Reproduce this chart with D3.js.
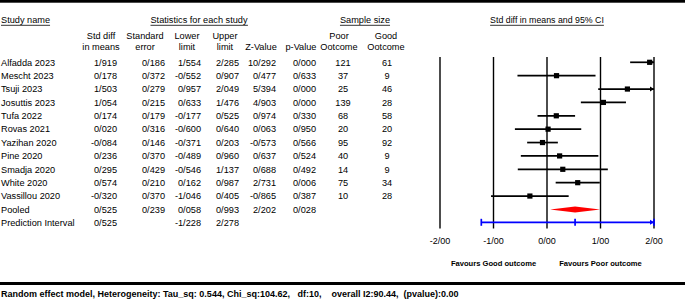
<!DOCTYPE html>
<html>
<head>
<meta charset="utf-8">
<script src="https://cdn.jsdelivr.net/npm/d3@7"></script>
<style>
  body { margin: 0; background: #fff; }
  svg { font-family: "Liberation Sans", Arial, sans-serif; }
</style>
</head>
<body>
<div id="chart"></div>
<script>
/* Forest plot: std diff in means, poor vs good outcome */

const studies = ["Alfadda 2023", "Mescht 2023", "Tsuji 2023", "Josuttis 2023", "Tufa 2022", "Rovas 2021",
                 "Yazihan 2020", "Pine 2020", "Smadja 2020", "White 2020", "Vassillou 2020"];
const smd   = [1.919, 0.178, 1.503, 1.054, 0.174, 0.020, -0.084, 0.236, 0.295, 0.574, -0.320];
const se    = [0.186, 0.372, 0.279, 0.215, 0.179, 0.316, 0.146, 0.370, 0.429, 0.210, 0.370];
const lower = [1.554, -0.552, 0.957, 0.633, -0.177, -0.600, -0.371, -0.489, -0.546, 0.162, -1.046];
const upper = [2.285, 0.907, 2.049, 1.476, 0.525, 0.640, 0.203, 0.960, 1.137, 0.987, 0.405];
const zval  = [10.292, 0.477, 5.394, 4.903, 0.974, 0.063, -0.573, 0.637, 0.688, 2.731, -0.865];
const pval  = [0.000, 0.633, 0.000, 0.000, 0.330, 0.950, 0.566, 0.524, 0.492, 0.006, 0.387];
const poorN = [121, 37, 25, 139, 68, 20, 95, 40, 14, 75, 10];
const goodN = [61, 9, 46, 28, 58, 20, 92, 9, 9, 34, 28];

const pooled = { name: "Pooled", smd: 0.525, se: 0.239, lower: 0.058, upper: 0.993, z: 2.202, p: 0.028 };
const predInt = { name: "Prediction Interval", smd: 0.525, lower: -1.228, upper: 2.278 };

const xTicks = [-2, -1, 0, 1, 2];
const footer = "Random effect model, Heterogeneity: Tau_sq: 0.544, Chi_sq:104.62,   df:10,    overall I2:90.44,  (pvalue):0.00";

const width = 685, height = 302;

const svg = d3.select("#chart").append("svg")
    .attr("width", width).attr("height", height)
    .attr("viewBox", [0, 0, width, height]);

/* decimals are written with "/" in the original */
const fmt = v => d3.format(".3f")(v).replace("−", "-").replace(".", "/");
const fmtTick = v => d3.format(".2f")(v).replace("−", "-").replace(".", "/");

const x = d3.scaleLinear().domain([-2, 2]).range([440, 654]);
const y = d3.scaleLinear().domain([0, 12]).range([62.3, 222.8]);

/* frame lines */
svg.append("rect").attr("x", 0).attr("y", 0).attr("width", width).attr("height", 2.7).attr("fill", "#000");
svg.append("rect").attr("x", 0).attr("y", 282).attr("width", width).attr("height", 3).attr("fill", "#000");

/* headers */
const hdr = svg.append("g").attr("font-size", 9.2).attr("fill", "#000");
const underlined = [["Study name", 1, "start", 9.2], ["Statistics for each study", 199, "middle", 9.2],
                    ["Sample size", 365, "middle", 9.2], ["Std diff in means and 95% CI", 547, "middle", 8.8]];
underlined.forEach(([t, xx, a, fs]) => {
  const el = hdr.append("text").attr("x", xx).attr("y", 23).attr("text-anchor", a)
    .attr("font-size", fs).text(t);
  const b = el.node().getBBox();
  hdr.append("line").attr("x1", b.x).attr("x2", b.x + b.width).attr("y1", 25.3).attr("y2", 25.3)
    .attr("stroke", "#000").attr("stroke-width", 0.8);
});

const subHdr = [["Std diff", "in means", 101], ["Standard", "error", 145], ["Lower", "limit", 187],
                ["Upper", "limit", 225], ["", "Z-Value", 261], ["", "p-Value", 301],
                ["Poor", "Ootcome", 339], ["Good", "Ootcome", 386]];
subHdr.forEach(([a, b, cx]) => {
  hdr.append("text").attr("x", cx).attr("y", 39).attr("text-anchor", "middle").text(a);
  hdr.append("text").attr("x", cx).attr("y", 49.5).attr("text-anchor", "middle").text(b);
});

/* table rows */
const rows = studies.map((s, i) => ({
  name: s, smd: smd[i], se: se[i], lower: lower[i], upper: upper[i],
  z: zval[i], p: pval[i], poor: poorN[i], good: goodN[i]
}));
const allRows = rows.concat([pooled, predInt]);

const tbl = svg.append("g").attr("font-size", 9.2).attr("fill", "#000");
allRows.forEach((d, i) => {
  const yy = y(i) + 3.3;
  const cell = (t, xx, a) => tbl.append("text").attr("x", xx).attr("y", yy).attr("text-anchor", a).text(t);
  cell(d.name, 1, "start");
  cell(fmt(d.smd), 117, "end");
  if (d.se !== undefined) cell(fmt(d.se), 165, "end");
  cell(fmt(d.lower), 201, "end");
  cell(fmt(d.upper), 239, "end");
  if (d.z !== undefined) cell(fmt(d.z), 276, "end");
  if (d.p !== undefined) cell(fmt(d.p), 316, "end");
  if (d.poor !== undefined) cell(d.poor, 343, "middle");
  if (d.good !== undefined) cell(d.good, 387, "middle");
});

/* reference lines */
svg.append("g").selectAll("line").data(xTicks).join("line")
  .attr("x1", d => x(d)).attr("x2", d => x(d))
  .attr("y1", 57).attr("y2", 228.5)
  .attr("stroke", "#000").attr("stroke-width", 1.4);

/* tick labels */
svg.append("g").attr("font-size", 9).selectAll("text").data(xTicks).join("text")
  .attr("x", d => x(d)).attr("y", 243.5).attr("text-anchor", "middle")
  .text(d => fmtTick(d));

/* study CIs and squares */
const clip = v => Math.max(-2, Math.min(2, v));
const ci = svg.append("g");
rows.forEach((d, i) => {
  const yy = y(i);
  ci.append("line").attr("x1", x(clip(d.lower))).attr("x2", x(clip(d.upper)))
    .attr("y1", yy).attr("y2", yy).attr("stroke", "#000").attr("stroke-width", 1.7);
  if (d.upper > 2) {
    const xe = x(2);
    ci.append("path").attr("d", `M${xe},${yy} L${xe - 4},${yy - 2.5} L${xe - 4},${yy + 2.5} Z`).attr("fill", "#000");
  }
  ci.append("rect").attr("x", x(d.smd) - 2.6).attr("y", yy - 2.6)
    .attr("width", 5.2).attr("height", 5.2).attr("fill", "#000");
});

/* pooled diamond */
const yp = y(11);
svg.append("path")
  .attr("d", `M${x(pooled.lower)},${yp} L${x(pooled.smd)},${yp - 3} L${x(pooled.upper)},${yp} L${x(pooled.smd)},${yp + 3} Z`)
  .attr("fill", "#ff0000");

/* prediction interval */
const yq = y(12) - 0.5;
const pi = svg.append("g").attr("stroke", "#0000ff").attr("stroke-width", 1.7);
pi.append("line").attr("x1", x(predInt.lower)).attr("x2", x(clip(predInt.upper))).attr("y1", yq).attr("y2", yq);
[predInt.lower, predInt.smd, clip(predInt.upper)].forEach(v => {
  pi.append("line").attr("x1", x(v)).attr("x2", x(v)).attr("y1", yq - 3.5).attr("y2", yq + 3.5);
});
svg.append("path")
  .attr("d", `M${x(2)},${yq} L${x(2) - 4},${yq - 2.5} L${x(2) - 4},${yq + 2.5} Z`).attr("fill", "#0000ff");

/* favours labels */
svg.append("g").attr("font-size", 7.6).attr("font-weight", "bold")
  .selectAll("text").data([["Favours Good outcome", -1], ["Favours Poor outcome", 1]]).join("text")
  .attr("x", d => x(d[1])).attr("y", 265.5).attr("text-anchor", "middle").text(d => d[0]);

/* footer */
svg.append("text").attr("x", 1).attr("y", 297).attr("font-size", 9).attr("font-weight", "bold")
  .attr("xml:space", "preserve").style("white-space", "pre").text(footer);
</script>
</body>
</html>
